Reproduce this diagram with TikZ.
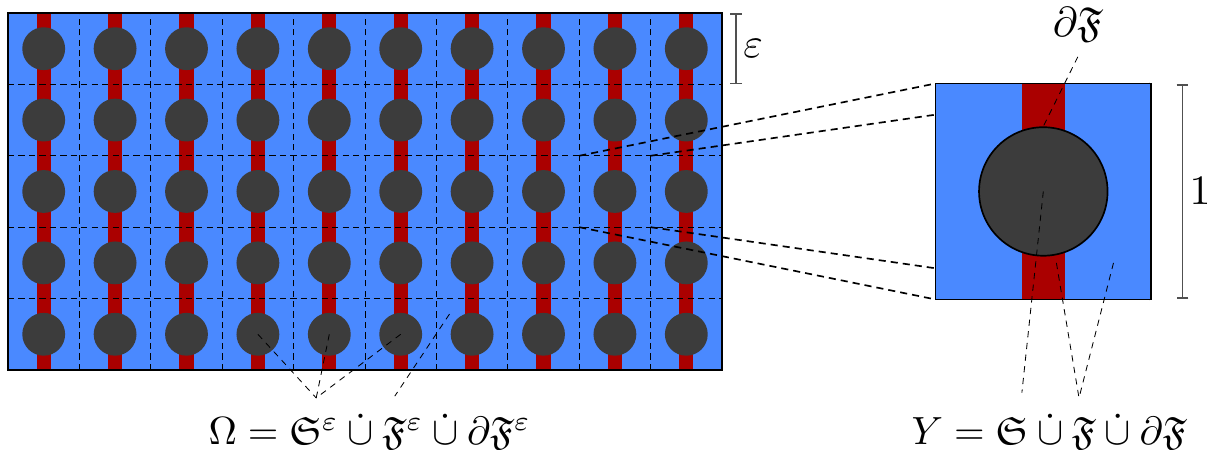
\documentclass[tikz,border=0pt]{standalone}
\usepackage{amsmath,amssymb}
\usetikzlibrary{arrows.meta, positioning}
\definecolor{fluidfill}{HTML}{4A89FF}
\definecolor{fibrefill}{HTML}{AA0000}
\definecolor{grainfill}{HTML}{3C3C3C}
\definecolor{scaleedge}{HTML}{505050}

\begin{document}
\begin{tikzpicture}[
  grain/.style={circle, fill=grainfill, minimum size=0.36cm, inner sep=0pt},
  incl/.style={circle, draw=black, fill=grainfill, minimum size=1.08cm, inner sep=0pt},
  cellbox/.style={rectangle, minimum size=1.8cm, inner sep=0pt},
  gridln/.style={very thin, dash pattern=on 1.5pt off 1pt},
  zoomln/.style={dash pattern=on 1.7pt off 1.2pt},
  ptr/.style={very thin, dash pattern=on 1.5pt off 1.3pt},
  bracket/.style={draw=scaleedge, {Bar[width=2.8pt]}-{Bar[width=2.8pt]}},
  lab/.style={inner sep=1.5pt},
  formula/.style={scale=0.94, transform shape},
]
\useasboundingbox (-0.0672,-0.672) rectangle (10.1344,3.109);
% ---- periodic medium: 10x5 cells of size eps ----
\fill[fluidfill] (0,0) rectangle (6,3);
\foreach \i in {0,...,9} {
  \fill[fibrefill] (0.6*\i+0.24,0) rectangle (0.6*\i+0.36,3);
  \foreach \j in {0,...,4}
    \node[grain] (g\i\j) at (0.6*\i+0.3,0.6*\j+0.3) {};
}
\foreach \i in {1,...,9} \draw[gridln] (0.6*\i,0) -- (0.6*\i,3);
\foreach \j in {1,...,4} \draw[gridln] (0,0.6*\j) -- (6,0.6*\j);
\draw (0,0) rectangle (6,3);
% ---- cell size eps ----
\coordinate (et) at (6.12,3);
\coordinate (eb) at (6.12,2.4);
\draw[bracket] (et) -- node[right, lab] (eps) {$\varepsilon$} (eb);
% ---- zoom into one cell ----
\coordinate (cnw) at (4.8,1.8);
\coordinate (cne) at (5.4,1.8);
\coordinate (csw) at (4.8,1.2);
\coordinate (cse) at (5.4,1.2);
\node[cellbox] (unitcell) at (8.7,1.5) {};
\draw[zoomln] (cnw) -- (unitcell.north west);
\draw[zoomln] (cne) -- (unitcell.north east);
\draw[zoomln] (csw) -- (unitcell.south west);
\draw[zoomln] (cse) -- (unitcell.south east);
% ---- reference cell Y ----
\fill[fluidfill] (unitcell.south west) rectangle (unitcell.north east);
\fill[fibrefill] ([xshift=-0.18cm]unitcell.south) rectangle ([xshift=0.18cm]unitcell.north);
\node[incl] (incl) at (unitcell.center) {};
\draw (unitcell.south west) rectangle (unitcell.north east);
\coordinate (ot) at (9.87,2.4);
\coordinate (ob) at (9.87,0.6);
\draw[bracket] (ot) -- node[right, lab] (one) {$1$} (ob);
% ---- labels ----
\node (bdlab) at (8.99,2.9) {$\partial\mathfrak{F}$};
\draw[ptr] (bdlab.south) -- (incl.north);
\node[formula] (ylab) at (8.75,-0.52) {$Y=\mathfrak{S}\mathbin{\dot\cup}\mathfrak{F}\mathbin{\dot\cup}\partial\mathfrak{F}$};
\coordinate (ya) at (8.52,-0.19);
\coordinate (yb) at (9.0,-0.235);
\coordinate (yfib) at (8.81,0.9);
\coordinate (yflu) at (9.29,0.9);
\draw[ptr] (incl.center) -- (ya);
\draw[ptr] (yfib) -- (yb);
\draw[ptr] (yflu) -- (yb);
\node[formula] (olab) at (3.04,-0.52) {$\Omega=\mathfrak{S}^{\varepsilon}\mathbin{\dot\cup}\mathfrak{F}^{\varepsilon}\mathbin{\dot\cup}\partial\mathfrak{F}^{\varepsilon}$};
\coordinate (oa) at (2.59,-0.235);
\coordinate (oc) at (3.25,-0.22);
\coordinate (oflu) at (3.71,0.47);
\draw[ptr] (g30.center) -- (oa);
\draw[ptr] (g40.center) -- (oa);
\draw[ptr] (g50.center) -- (oa);
\draw[ptr] (oflu) -- (oc);
\end{tikzpicture}
\end{document}
